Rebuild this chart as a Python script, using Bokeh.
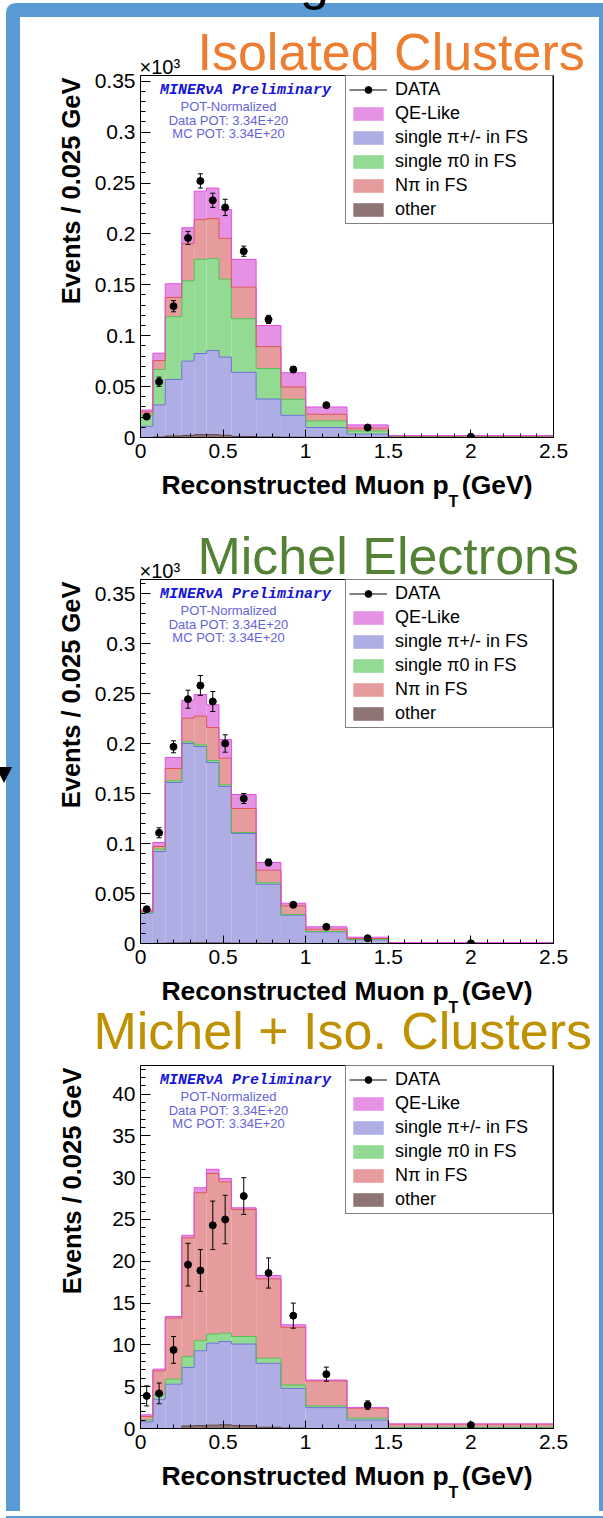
import math
from bokeh.plotting import figure
from bokeh.models import (Label, Legend, LegendItem, FixedTicker, Title,
                          CustomJSTickFormatter, Div, Range1d)
from bokeh.layouts import column, row
from bokeh.embed import file_html
from bokeh.resources import INLINE

# ---------------- data ----------------
bin_edges = [0, 0.075, 0.15, 0.25, 0.325, 0.4, 0.475, 0.55, 0.7, 0.85, 1.0, 1.25, 1.5, 2.5]
x_ticks = [0, 0.5, 1, 1.5, 2, 2.5]
x_minor = [0, 0.1, 0.2, 0.3, 0.4, 0.5, 0.6, 0.7, 0.8, 0.9, 1.0, 1.1, 1.2, 1.3, 1.4,
           1.5, 1.6, 1.7, 1.8, 1.9, 2.0, 2.1, 2.2, 2.3, 2.4, 2.5]
legend_labels = ["DATA", "QE-Like", "single π+/- in FS", "single π0 in FS", "Nπ in FS", "other"]
panel_titles = ["Isolated Clusters", "Michel Electrons", "Michel + Iso. Clusters"]

# Isolated Clusters (units of 10^3 events / 0.025 GeV)
iso_other = [0.0000, 0.0005, 0.0015, 0.0020, 0.0028, 0.0028, 0.0022, 0.0010, 0.0005, 0.0003, 0.0002, 0.0001, 0.0001]
iso_pipm = [0.0110, 0.0315, 0.0555, 0.0730, 0.0797, 0.0826, 0.0768, 0.0630, 0.0373, 0.0215, 0.0096, 0.0032, 0.0009]
iso_pi0 = [0.0108, 0.0348, 0.0617, 0.0790, 0.0925, 0.0903, 0.0765, 0.0527, 0.0300, 0.0157, 0.0065, 0.0032, 0.0002]
iso_npi = [0.0033, 0.0088, 0.0189, 0.0367, 0.0390, 0.0393, 0.0401, 0.0310, 0.0215, 0.0121, 0.0065, 0.0026, 0.0003]
iso_qe = [0.0019, 0.0072, 0.0134, 0.0153, 0.0280, 0.0300, 0.0284, 0.0273, 0.0207, 0.0140, 0.0072, 0.0033, 0.0005]
iso_data = [0.0205, 0.0548, 0.1290, 0.1960, 0.2520, 0.2330, 0.2260, 0.1830, 0.1160, 0.0668, 0.0318, 0.0098, 0.0008]
iso_err = [0.0025, 0.0045, 0.0055, 0.0065, 0.0070, 0.0070, 0.0080, 0.0050, 0.0040, 0.0030, 0.0015, 0.0010, 0.0003]
iso_yticks = [0, 0.05, 0.1, 0.15, 0.2, 0.25, 0.3, 0.35]
iso_yminor = [i / 100 for i in range(36)]

# Michel Electrons
mic_other = [0.0000, 0.0002, 0.0005, 0.0006, 0.0007, 0.0006, 0.0005, 0.0003, 0.0002, 0.0001, 0.0000, 0.0000, 0.0000]
mic_pipm = [0.0303, 0.0918, 0.1605, 0.1994, 0.1963, 0.1804, 0.1565, 0.1097, 0.0591, 0.0282, 0.0117, 0.0037, 0.0005]
mic_pi0 = [0.0005, 0.0023, 0.0017, 0.0017, 0.0017, 0.0020, 0.0017, 0.0010, 0.0014, 0.0007, 0.0003, 0.0003, 0.0001]
mic_npi = [0.0012, 0.0027, 0.0123, 0.0236, 0.0286, 0.0330, 0.0266, 0.0240, 0.0126, 0.0087, 0.0023, 0.0010, 0.0002]
mic_qe = [0.0017, 0.0040, 0.0110, 0.0180, 0.0217, 0.0227, 0.0187, 0.0140, 0.0077, 0.0026, 0.0024, 0.0013, 0.0002]
mic_data = [0.0343, 0.1107, 0.1967, 0.2443, 0.2580, 0.2420, 0.2000, 0.1450, 0.0810, 0.0387, 0.0167, 0.0053, 0.0002]
mic_err = [0.0020, 0.0050, 0.0060, 0.0090, 0.0100, 0.0100, 0.0087, 0.0050, 0.0033, 0.0020, 0.0013, 0.0008, 0.0002]
mic_yticks = [0, 0.05, 0.1, 0.15, 0.2, 0.25, 0.3, 0.35]
mic_yminor = [i / 100 for i in range(37)]

# Michel + Iso. Clusters (events / 0.025 GeV)
comb_other = [0.00, 0.00, 0.00, 0.30, 0.35, 0.40, 0.45, 0.35, 0.15, 0.05, 0.00, 0.00, 0.00]
comb_pipm = [0.80, 3.50, 5.30, 7.00, 8.95, 9.80, 9.95, 9.75, 7.65, 4.75, 2.50, 1.00, 0.12]
comb_pi0 = [0.20, 0.50, 0.60, 1.30, 1.20, 1.10, 1.00, 0.90, 0.60, 0.40, 0.20, 0.24, 0.03]
comb_npi = [0.44, 2.90, 7.30, 14.20, 17.70, 19.20, 18.10, 15.20, 9.50, 6.90, 3.00, 1.19, 0.37]
comb_qe = [0.19, 0.20, 0.20, 0.30, 0.60, 0.50, 0.40, 0.20, 0.40, 0.30, 0.10, 0.07, 0.03]
comb_data = [3.9, 4.2, 9.4, 19.6, 18.9, 24.3, 25.0, 27.8, 18.6, 13.5, 6.5, 2.8, 0.4]
comb_err = [1.2, 1.24, 1.6, 2.55, 2.5, 2.9, 2.9, 2.2, 1.8, 1.5, 0.84, 0.5, 0.2]
comb_yticks = [0, 5, 10, 15, 20, 25, 30, 35, 40]
comb_yminor = list(range(44))

# ---------------- styles ----------------
FONT = "Liberation Sans"
fill_cols = {"other": "#8E7474", "pipm": "#AEAEE4", "pi0": "#93DA93", "npi": "#E69C9C", "qe": "#E592E5"}
edge_cols = {"other": "#5E4040", "pipm": "#7070DD", "pi0": "#55C055", "npi": "#E05555", "qe": "#E050E0"}
title_cols = ["#ED7D31", "#548235", "#BF9000"]

FIG_W = 579
FRAME_LEFT = 120          # frame left inside the figure
FRAME_W = 413
XSCALE = FRAME_W / 2.5    # px per unit of x


def xd(px):
    return px / XSCALE


def big_title(text, color, offset, valign, standoff):
    return Title(text=text, align="left", offset=offset, vertical_align=valign,
                 standoff=standoff, text_font=FONT, text_font_size="52px",
                 text_font_style="normal", text_color=color)


def make_panel(comps, data, err, ymax, yticks, yminor, height, top_b, frame_h,
               show_exp, ylab_standoff):
    bottom_b = height - top_b - frame_h
    p = figure(width=FIG_W, height=height, x_range=Range1d(0, 2.5), y_range=Range1d(0, ymax),
               output_backend="svg", toolbar_location=None,
               min_border_left=FRAME_LEFT, min_border_right=FIG_W - FRAME_LEFT - FRAME_W,
               min_border_top=top_b, min_border_bottom=bottom_b)
    p.title.visible = False
    p.xgrid.visible = False
    p.ygrid.visible = False
    p.outline_line_color = "black"
    p.outline_line_width = 1
    p.background_fill_color = "white"
    p.border_fill_color = "white"

    ys = ymax / frame_h  # data units per px

    def yd_top(px):   # px below frame top
        return ymax - px * ys

    left = bin_edges[:-1]
    right = bin_edges[1:]
    keys = ["other", "pipm", "pi0", "npi", "qe"]
    cum = [0.0] * len(left)
    tops = []
    quads = {}
    for k, comp in zip(keys, comps):
        bottom = list(cum)
        top = [c + v for c, v in zip(cum, comp)]
        quads[k] = p.quad(left=left, right=right, bottom=bottom, top=top,
                          fill_color=fill_cols[k], line_color=None)
        tops.append((k, top))
        cum = top
    for k, top in tops:
        p.step(x=bin_edges, y=top + [top[-1]], mode="after",
               line_color=edge_cols[k], line_width=1)

    centers = [(a + b) / 2 for a, b in zip(left, right)]
    lo = [d - e for d, e in zip(data, err)]
    hi = [d + e for d, e in zip(data, err)]
    r_err = p.segment(x0=centers, y0=lo, x1=centers, y1=hi, line_color="black", line_width=1)
    p.scatter(x=centers + centers, y=lo + hi, marker="dash", size=5, line_color="black", line_width=1)
    r_pts = p.scatter(x=centers, y=data, marker="circle", size=7, color="black")

    items = [LegendItem(label=legend_labels[0], renderers=[r_err, r_pts]),
             LegendItem(label=legend_labels[1], renderers=[quads["qe"]]),
             LegendItem(label=legend_labels[2], renderers=[quads["pipm"]]),
             LegendItem(label=legend_labels[3], renderers=[quads["pi0"]]),
             LegendItem(label=legend_labels[4], renderers=[quads["npi"]]),
             LegendItem(label=legend_labels[5], renderers=[quads["other"]])]
    leg = Legend(items=items, location="top_right", margin=0, padding=3, spacing=3,
                 glyph_width=38, glyph_height=17, label_height=20, label_width=154,
                 label_standoff=8, label_text_font=FONT, label_text_font_size="18px",
                 label_text_color="black", border_line_color="black", border_line_width=1,
                 background_fill_color="white", background_fill_alpha=1.0)
    p.add_layout(leg)

    fmt = CustomJSTickFormatter(code="return String(Math.round(tick*1000)/1000);")
    p.xaxis.ticker = FixedTicker(ticks=x_ticks, minor_ticks=x_minor)
    p.yaxis.ticker = FixedTicker(ticks=yticks, minor_ticks=yminor)
    for ax, mt, mn, so in ((p.xaxis, 8, 4, 6), (p.yaxis, 10, 5, 5)):
        ax.formatter = fmt
        ax.major_label_text_font = FONT
        ax.major_label_text_font_size = "21px"
        ax.major_label_text_color = "black"
        ax.axis_line_color = "black"
        ax.major_tick_line_color = "black"
        ax.minor_tick_line_color = "black"
        ax.major_tick_in = mt
        ax.major_tick_out = 0
        ax.minor_tick_in = mn
        ax.minor_tick_out = 0
        ax.major_label_standoff = so

    # x axis title (p_T: subscript T added as a separate title below)
    p.xaxis.axis_label = "Reconstructed Muon p\u2002(GeV)"
    p.xaxis.axis_label_text_font = FONT
    p.xaxis.axis_label_text_font_size = "26.5px"
    p.xaxis.axis_label_text_font_style = "bold"
    p.xaxis.axis_label_text_color = "black"
    p.xaxis.axis_label_standoff = 9
    p.add_layout(Title(text="T", align="left", offset=308, vertical_align="top", standoff=-19,
                       text_font=FONT, text_font_size="16px", text_font_style="bold",
                       text_color="black"), "below")

    # y axis title
    p.add_layout(Title(text="Events / 0.025 GeV", align="right", offset=2, vertical_align="bottom",
                       standoff=ylab_standoff, text_font=FONT, text_font_size="25.5px",
                       text_font_style="bold", text_color="black"), "left")

    if show_exp:
        p.add_layout(Title(text="×10³", align="left", offset=-1, vertical_align="bottom",
                           standoff=-4, text_font=FONT, text_font_size="20px",
                           text_font_style="normal", text_color="black"), "above")

    # MINERvA annotation
    p.add_layout(Label(x=xd(105), y=yd_top(15), text="MINERνA Preliminary",
                       text_font="Liberation Mono", text_font_size="15px",
                       text_font_style="bold italic", text_color="#1515D5",
                       text_align="center", text_baseline="middle"))
    for dy, t in ((31, "POT-Normalized"), (44.5, "Data POT: 3.34E+20"), (58, "MC POT: 3.34E+20")):
        p.add_layout(Label(x=xd(88), y=yd_top(dy), text=t, text_font=FONT,
                           text_font_size="13px", text_color="#6464D8",
                           text_align="center", text_baseline="middle"))
    return p


p1 = make_panel([iso_other, iso_pipm, iso_pi0, iso_npi, iso_qe], iso_data, iso_err,
                0.3556, iso_yticks, iso_yminor, height=501, top_b=58, frame_h=362,
                show_exp=True, ylab_standoff=13)
p2 = make_panel([mic_other, mic_pipm, mic_pi0, mic_npi, mic_qe], mic_data, mic_err,
                0.364, mic_yticks, mic_yminor, height=543, top_b=61, frame_h=364,
                show_exp=True, ylab_standoff=13)
p3 = make_panel([comb_other, comb_pipm, comb_pi0, comb_npi, comb_qe], comb_data, comb_err,
                43.42, comb_yticks, comb_yminor, height=450, top_b=4, frame_h=363,
                show_exp=False, ylab_standoff=48)

# panel titles
p1.add_layout(big_title(panel_titles[0], title_cols[0], 57, "bottom", -50), "above")
p2.add_layout(big_title(panel_titles[1], title_cols[1], 57, "bottom", -50), "above")
# the third title sits in the space between panel 2 and panel 3
p2.add_layout(big_title(panel_titles[2], title_cols[2], -47, "top", -14), "below")

BLUE = "#5B9BD5"
top_svg = ('<svg xmlns="http://www.w3.org/2000/svg" width="603" height="17" style="display:block">'
           '<path d="M6,17 L6,14 Q6,3 17,3 L603,3 L603,17 Z" fill="%s"/>'
           '<text x="300" y="-1" font-family="Liberation Sans" font-size="52" fill="black">g</text>'
           '</svg>' % BLUE)
left_svg = ('<svg xmlns="http://www.w3.org/2000/svg" width="20" height="1494" style="display:block">'
            '<rect x="6" y="0" width="14" height="1494" fill="%s"/>'
            '<polygon points="-4,750 12,750 4,766" fill="black"/>'
            '</svg>' % BLUE)
right_svg = ('<svg xmlns="http://www.w3.org/2000/svg" width="4" height="1494" style="display:block">'
             '<rect x="0" y="0" width="4" height="1494" fill="%s"/></svg>' % BLUE)
bot_svg = ('<svg xmlns="http://www.w3.org/2000/svg" width="603" height="7" style="display:block">'
           '<rect x="6" y="0" width="597" height="7" fill="%s"/></svg>' % BLUE)

top_div = Div(text=top_svg, width=603, height=17, margin=0)
left_div = Div(text=left_svg, width=20, height=1494, margin=0)
right_div = Div(text=right_svg, width=4, height=1494, margin=0)
bot_div = Div(text=bot_svg, width=603, height=7, margin=0)

layout = column(top_div, row(left_div, column(p1, p2, p3), right_div), bot_div)

open("out.html", "w").write(file_html(layout, INLINE))
